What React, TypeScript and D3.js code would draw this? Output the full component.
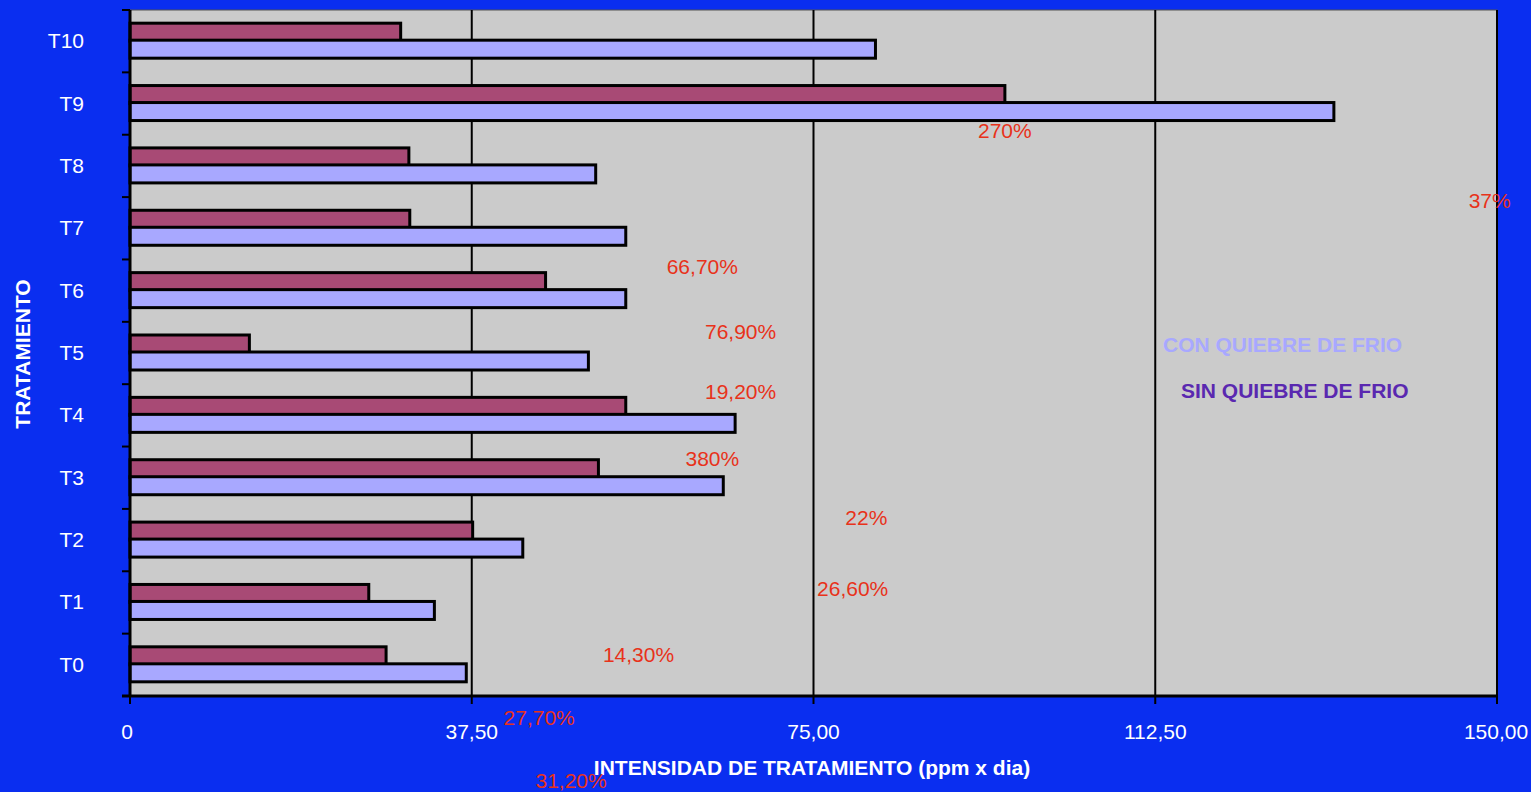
import React, { useEffect, useRef } from 'react'
import * as d3 from 'd3'

// treatments, bottom to top
const categories = ['T0', 'T1', 'T2', 'T3', 'T4', 'T5', 'T6', 'T7', 'T8', 'T9', 'T10']
// SIN QUIEBRE DE FRIO (purple, upper bar)
const sinValues = [28.1, 26.2, 37.6, 51.4, 54.4, 13.1, 45.6, 30.7, 30.6, 96.0, 29.7]
// CON QUIEBRE DE FRIO (lavender, lower bar)
const conValues = [36.9, 33.4, 43.1, 65.1, 66.4, 50.3, 54.4, 54.4, 51.1, 132.1, 81.8]
const xTicks = [0, 37.5, 75, 112.5, 150]
const xTickLabels = ['0', '37,50', '75,00', '112,50', '150,00']
// floating red notes: x in data units, y as treatment slot position
const notes = [
  { text: '270%', x: 96.0, y: 8.45 },
  { text: '37%', x: 149.2, y: 7.33 },
  { text: '66,70%', x: 62.8, y: 6.27 },
  { text: '76,90%', x: 67.0, y: 5.24 },
  { text: '19,20%', x: 67.0, y: 4.27 },
  { text: '380%', x: 63.9, y: 3.2 },
  { text: '22%', x: 80.8, y: 2.25 },
  { text: '26,60%', x: 79.3, y: 1.11 },
  { text: '14,30%', x: 55.8, y: 0.06 },
  { text: '27,70%', x: 44.9, y: -0.96 },
  { text: '31,20%', x: 48.4, y: -1.97 },
]

const W = 1531
const H = 792
const FONT = '"Liberation Sans", Arial, sans-serif'

export default function App() {
  const ref = useRef<SVGSVGElement>(null)

  useEffect(() => {
    const svg = d3.select(ref.current)
    svg.selectAll('*').remove()
    const left = 130, right = 1497, top = 10, bottom = 696

    const x = d3.scaleLinear().domain([0, 150]).range([left, right])
    const y = d3.scaleBand().domain(categories).range([bottom, top]).paddingInner(0).paddingOuter(0)
    const step = y.step()
    const barH = 18

    svg.append('rect').attr('width', W).attr('height', H).attr('fill', '#0a2ef0')
    svg.append('rect').attr('x', left).attr('y', top).attr('width', right - left).attr('height', bottom - top)
      .attr('fill', '#cbcbcb').attr('stroke', '#555').attr('stroke-width', 1)

    // gridlines
    svg.append('g').selectAll('line').data(xTicks.slice(1)).enter().append('line')
      .attr('x1', d => x(d)).attr('x2', d => x(d)).attr('y1', top).attr('y2', bottom)
      .attr('stroke', '#000').attr('stroke-width', 2)

    const g = svg.append('g').selectAll('g').data(categories).enter().append('g')
      .attr('transform', d => `translate(0,${(y(d) as number) + step / 2})`)

    g.append('rect')
      .attr('x', x(0)).attr('y', -barH)
      .attr('width', (d, i) => x(sinValues[i]) - x(0)).attr('height', barH)
      .attr('fill', '#a84a75').attr('stroke', '#000').attr('stroke-width', 3)
    g.append('rect')
      .attr('x', x(0)).attr('y', -1)
      .attr('width', (d, i) => x(conValues[i]) - x(0)).attr('height', barH)
      .attr('fill', '#a8a8ff').attr('stroke', '#000').attr('stroke-width', 3)

    // axes
    svg.append('line').attr('x1', left).attr('x2', left).attr('y1', top).attr('y2', bottom + 1)
      .attr('stroke', '#000').attr('stroke-width', 3)
    svg.append('line').attr('x1', left - 8).attr('x2', right + 1).attr('y1', bottom).attr('y2', bottom)
      .attr('stroke', '#000').attr('stroke-width', 3)
    const yBounds = categories.map(c => y(c) as number)
    svg.append('g').selectAll('line').data(yBounds).enter().append('line')
      .attr('x1', left - 8).attr('x2', left).attr('y1', d => d).attr('y2', d => d)
      .attr('stroke', '#000').attr('stroke-width', 2)
    svg.append('g').selectAll('line').data(xTicks).enter().append('line')
      .attr('x1', d => x(d)).attr('x2', d => x(d)).attr('y1', bottom).attr('y2', bottom + 8)
      .attr('stroke', '#000').attr('stroke-width', 2)

    svg.append('g').selectAll('text').data(categories).enter().append('text')
      .attr('x', 84).attr('y', d => (y(d) as number) + step / 2 + 7)
      .attr('text-anchor', 'end').attr('fill', '#fff')
      .style('font', `21px ${FONT}`).text(d => d)

    svg.append('g').selectAll('text').data(xTicks).enter().append('text')
      .attr('x', d => x(d)).attr('y', 739)
      .attr('text-anchor', 'middle')
      .attr('dx', (d, i) => i === 0 ? -3 : i === xTicks.length - 1 ? -1 : 0)
      .attr('fill', '#fff')
      .style('font', `21px ${FONT}`).text((d, i) => xTickLabels[i])

    svg.append('text').attr('x', 812).attr('y', 775).attr('text-anchor', 'middle')
      .attr('fill', '#fff').style('font', `bold 21px ${FONT}`)
      .text('INTENSIDAD DE TRATAMIENTO (ppm x dia)')
    svg.append('text').attr('transform', 'translate(30,354) rotate(-90)').attr('text-anchor', 'middle')
      .attr('fill', '#fff').style('font', `bold 21px ${FONT}`).text('TRATAMIENTO')

    // legend texts
    svg.append('text').attr('x', 1163).attr('y', 352).attr('fill', '#a8a8ff')
      .style('font', `bold 21px ${FONT}`).text('CON QUIEBRE DE FRIO')
    svg.append('text').attr('x', 1181).attr('y', 398).attr('fill', '#5a28b0')
      .style('font', `bold 21px ${FONT}`).text('SIN QUIEBRE DE FRIO')

    const yPos = (v: number) => bottom - (v + 0.5) * step
    svg.append('g').selectAll('text').data(notes).enter().append('text')
      .attr('x', d => x(d.x)).attr('y', d => yPos(d.y) + 0.5)
      .attr('text-anchor', 'middle').attr('fill', '#e8321a')
      .style('font', `21px ${FONT}`).text(d => d.text)
  }, [])

  return <svg ref={ref} width={W} height={H} style={{ position: 'absolute', left: 0, top: 0 }} />
}
